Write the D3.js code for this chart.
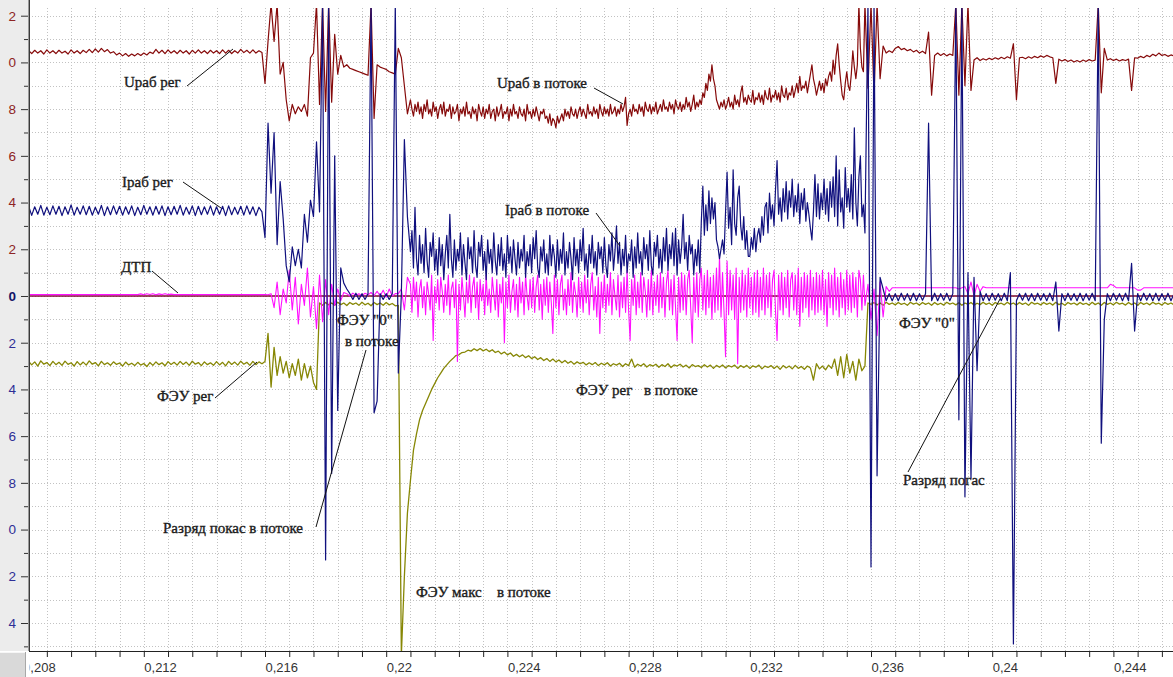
<!DOCTYPE html>
<html><head><meta charset="utf-8">
<script src="https://cdn.jsdelivr.net/npm/d3@7"></script>
<style>html,body{margin:0;padding:0;background:#fff;} svg{display:block;}</style>
</head><body>
<svg id="c" width="1173" height="677"></svg>
<script>
// ---- sampling clock of the recorder ----
const sampleStep = 0.0001;
const fineStep = 0.00005;
const segmentStarts = [0.2082, 0.2160, 0.2208, 0.2358];

// ---- Uраб (maroon) ----
const uWork = [
 [10.5,10.38,10.52,10.4,10.5,10.36,10.54,10.4,10.5,10.38,
  10.52,10.4,10.48,10.36,10.54,10.4,10.5,10.38,10.52,10.42,
  10.56,10.42,10.58,10.44,10.6,10.46,10.55,10.4,10.46,10.32,
  10.4,10.28,10.38,10.26,10.36,10.28,10.38,10.3,10.4,10.32,
  10.44,10.38,10.56,10.4,10.52,10.38,10.54,10.4,10.5,10.38,
  10.52,10.4,10.5,10.36,10.52,10.4,10.54,10.4,10.5,10.38,
  10.52,10.4,10.5,10.38,10.54,10.4,10.52,10.38,10.5,10.4,
  10.56,10.42,10.52,10.4,10.54,10.4,10.5,10.42],
 [9.1,10.9,12.5,10.9,12.5,9.5,10.0,8.4,7.5,8.2,
  7.8,8.1,7.9,8.2,7.7,10.2,10.4,12.5,8.2,12.5,
  7.9,12.5,8.3,11.2,9.5,10.3,9.8,9.9,9.75,9.7,
  9.65,9.6,9.55,9.5,9.45,12.5,7.6,9.9,9.8,9.75,
  9.7,9.6,9.55,9.5,10.6,10.2,9.0,7.8],
 // fine-sampled segment (step 0.00005)
 [8.4,8.0,7.7,8.2,7.9,8.3,7.8,8.1,7.6,8.2,
  7.9,8.4,7.8,8.0,7.7,8.3,7.9,8.1,7.6,8.0,
  8.2,7.8,8.3,7.7,8.0,7.9,8.2,7.6,8.1,7.8,
  7.9,8.2,7.5,8.0,7.8,8.1,7.7,8.3,7.8,7.9,
  7.6,8.1,7.8,8.0,7.5,8.2,7.9,7.7,8.1,7.6,
  8.0,7.8,8.2,7.6,7.9,8.0,7.5,8.1,7.7,7.9,
  8.2,7.6,7.9,7.8,8.1,7.5,8.0,7.7,8.2,7.8,
  7.9,7.6,8.1,7.8,7.7,8.0,7.5,8.2,7.8,7.9,
  7.6,8.0,7.7,8.1,7.8,7.5,7.9,7.8,8.0,7.6,
  7.7,7.4,7.8,7.3,7.6,7.5,7.2,7.7,7.4,7.6,
  7.8,7.5,8.0,7.7,7.9,7.6,8.1,7.8,7.7,8.0,
  7.6,7.9,8.1,7.7,8.0,7.8,7.6,8.2,7.8,7.9,
  7.7,8.1,7.8,8.0,7.6,8.2,7.9,7.7,8.1,7.8,
  8.0,7.7,8.2,7.8,7.9,8.1,7.7,8.0,7.8,8.2,
  7.9,8.1,8.5,7.3,7.8,8.0,7.7,8.2,7.9,8.0,
  7.8,8.2,7.9,8.1,7.7,8.3,8.0,7.9,8.2,7.8,
  8.1,7.9,8.3,7.8,8.0,8.2,7.9,8.4,8.0,8.1,
  7.9,8.3,8.0,8.2,7.8,8.4,8.1,8.0,8.3,7.9,
  8.2,8.0,8.5,8.1,8.3,7.9,8.2,8.6,8.0,8.3,
  8.1,8.4,8.2,8.7,8.5,9.1,8.8,9.5,9.2,9.9,
  9.3,9.0,8.4,8.2,8.0,8.3,8.1,8.4,8.0,8.2,
  8.5,8.1,8.3,8.0,8.6,8.2,8.4,8.1,8.7,9.0,
  8.3,8.5,8.2,8.6,8.4,8.3,8.8,8.2,8.5,8.4,
  8.7,8.3,8.6,8.2,8.8,8.5,8.4,8.9,8.3,8.6,
  8.5,8.8,8.4,8.7,8.3,9.0,8.6,8.5,8.9,8.4,
  8.7,8.6,9.0,8.5,8.8,9.1,8.7,9.4,8.8,9.0,
  8.9,9.2,8.7,9.1,9.5,9.9,9.3,9.0,8.6,8.9,
  9.2,8.8,9.1,8.7,9.3,9.0,9.4,9.6,9.2,10.1,
  9.5,10.3,10.8,9.9,9.2,8.6,8.4,9.1,9.6,9.0,
  8.8,9.5,10.5,9.8,9.3,9.9,12.5,10.6,9.8,9.6],
 [12.5,8.9,12.5,8.6,12.5,9.3,10.7,10.4,10.5,10.42,
  10.6,10.68,10.55,10.6,10.5,10.56,10.45,10.52,10.4,10.48,
  10.38,11.3,8.6,10.3,10.4,10.3,10.38,10.28,10.36,10.3,
  12.5,8.6,12.5,9.0,12.5,8.8,10.1,10.2,10.08,10.16,
  10.1,10.18,10.12,10.2,10.14,10.22,10.16,10.24,10.18,10.8,
  8.4,10.2,10.22,10.16,10.24,10.18,10.26,10.2,10.28,10.22,
  10.3,10.24,10.2,9.1,10.14,10.06,10.12,10.04,10.1,10.02,
  10.08,10.02,10.1,10.04,10.12,10.06,10.1,12.5,8.7,10.6,
  10.1,10.16,10.08,10.14,10.06,10.12,10.08,10.14,8.8,10.2,
  10.18,10.26,10.2,10.3,10.24,10.35,10.28,10.4,10.3,10.34,
  10.26,10.32,10.28]
];

// ---- Iраб (navy) ----
const iWork = [
 [3.85,3.45,3.82,3.5,3.88,3.46,3.8,3.48,3.86,3.5,
  3.84,3.44,3.82,3.5,3.9,3.46,3.8,3.5,3.86,3.48,
  3.84,3.46,3.8,3.5,3.88,3.44,3.82,3.48,3.86,3.5,
  3.84,3.46,3.82,3.5,3.86,3.44,3.8,3.48,3.88,3.5,
  3.82,3.46,3.84,3.5,3.86,3.44,3.82,3.48,3.84,3.5,
  3.88,3.46,3.8,3.5,3.86,3.44,3.84,3.48,3.82,3.5,
  3.86,3.46,3.82,3.5,3.84,3.44,3.86,3.48,3.8,3.5,
  3.84,3.46,3.86,3.5,3.82,3.44,3.8,3.6],
 [2.5,7.4,4.4,7.0,2.2,4.9,3.3,1.3,0.6,2.1,
  1.3,2.0,1.2,3.5,2.3,4.1,3.4,6.6,3.6,12.5,
  -11.3,12.5,-7.6,6.0,-4.9,1.2,0.55,0.3,0.1,-0.15,
  0.12,-0.15,0.1,-0.15,0.1,12.5,-5.0,-4.5,0.1,-0.15,
  0.1,-0.15,0.1,12.5,-3.3,0.1,6.7,3.4],
 // fine-sampled segment (step 0.00005)
 [1.9,2.8,1.2,3.8,1.6,0.9,2.6,1.4,2.2,1.0,
  2.9,1.5,0.8,2.3,1.7,2.7,1.1,2.0,0.9,2.5,
  1.3,2.2,0.7,1.8,2.6,1.2,3.5,1.6,0.8,2.4,
  1.1,2.0,1.5,2.7,0.9,2.2,1.4,0.7,2.5,1.6,
  2.1,1.0,2.8,1.3,0.8,2.3,1.7,2.6,1.1,1.9,
  0.7,2.4,1.4,2.0,1.0,2.7,1.5,0.9,2.2,1.3,
  2.5,1.1,1.8,0.8,2.6,1.4,2.1,1.0,2.4,1.6,
  0.9,2.3,1.2,2.0,1.5,2.6,0.8,1.9,1.3,2.2,
  1.0,2.5,1.6,2.8,1.2,0.8,2.1,1.5,2.4,1.0,
  1.8,0.9,2.6,1.3,2.2,1.7,0.8,2.4,1.1,2.0,
  1.4,2.7,0.9,1.9,1.2,2.3,1.6,0.7,2.5,1.3,
  2.0,1.0,2.4,1.5,2.9,1.1,1.8,0.8,2.2,1.4,
  2.6,1.2,1.9,0.9,2.3,1.6,2.1,1.0,2.5,1.3,
  0.8,2.2,1.5,2.7,1.1,1.9,3.0,1.4,2.3,0.9,
  2.0,1.3,2.6,1.0,1.8,1.5,2.4,0.8,2.1,1.2,
  2.7,1.4,1.9,0.9,2.5,1.6,2.2,1.1,2.8,1.3,
  0.9,2.3,1.7,2.6,1.2,2.0,1.0,2.5,1.5,2.9,
  1.1,2.2,1.6,2.7,1.3,2.9,0.9,2.4,1.4,2.1,
  3.5,1.6,2.3,1.1,2.6,1.8,2.2,0.9,2.0,1.3,
  2.4,1.0,3.2,4.7,2.6,3.9,2.8,4.5,3.1,4.2,
  3.3,4.0,2.4,2.1,1.6,2.0,2.4,1.8,3.6,5.3,
  2.9,3.8,2.2,5.4,3.1,2.6,4.2,4.7,3.0,2.4,
  3.4,2.0,2.8,1.7,1.7,2.5,2.0,2.9,1.9,2.6,
  2.9,2.3,3.4,2.6,3.8,4.0,2.7,4.4,3.3,3.9,
  3.0,4.6,5.8,3.5,4.2,3.2,4.6,3.6,4.9,3.3,
  4.5,3.8,5.0,3.4,4.3,3.6,4.8,3.1,4.4,3.7,
  4.6,3.2,4.0,3.5,2.9,2.4,3.6,5.2,3.4,4.8,
  3.3,4.4,3.7,5.0,3.5,4.6,3.2,4.9,3.8,5.1,
  3.4,6.0,3.0,5.4,3.6,4.2,2.9,5.5,3.8,4.6,
  3.6,5.2,3.3,7.2,4.0,3.0,5.1,6.0,3.4,3.9],
 [2.7,12.5,-11.6,12.5,-7.7,0.8,0.3,-0.2,0.1,-0.2,
  0.1,-0.2,0.12,-0.18,0.1,-0.2,0.12,-0.2,0.1,-0.18,
  0.1,7.4,-0.2,0.12,-0.2,0.1,-0.18,0.12,-0.2,0.1,
  12.5,-5.3,12.5,-8.6,1.0,-7.8,0.8,-3.2,0.2,-0.2,
  0.1,-0.2,0.12,-0.18,0.1,-0.2,0.12,-0.2,1.0,-14.9,
  -0.2,0.1,-0.18,0.12,-0.2,0.1,-0.2,0.12,-0.18,0.1,
  -0.2,0.12,-0.2,0.6,-1.5,0.1,-0.2,0.12,-0.18,0.1,
  -0.2,0.12,-0.2,0.1,-0.18,0.12,-0.2,12.5,-6.3,-1.0,
  0.1,-0.2,0.12,-0.18,0.1,-0.2,0.12,-0.2,1.4,-1.5,
  0.1,-0.2,0.12,-0.18,0.1,-0.2,0.12,-0.2,0.1,-0.18,
  0.12,-0.2,0.1]
];

// ---- ДТП (magenta) ----
const dtp = [
 [0.06,0.06,0.06,0.06,0.06,0.06,0.06,0.06,0.06,0.06,
  0.06,0.06,0.06,0.06,0.06,0.06,0.06,0.06,0.06,0.06,
  0.06,0.06,0.06,0.06,0.06,0.06,0.06,0.06,0.06,0.06,
  0.06,0.06,0.06,0.06,0.06,0.06,0.06,0.09,0.05,0.1,
  0.06,0.1,0.05,0.09,0.06,0.1,0.06,0.08,0.06,0.06,
  0.06,0.06,0.06,0.06,0.06,0.06,0.06,0.06,0.06,0.06,
  0.06,0.06,0.06,0.06,0.06,0.06,0.06,0.06,0.06,0.06,
  0.06,0.06,0.06,0.06,0.06,0.06,0.06,0.06],
 [0.06,0.05,0.1,-0.5,0.6,-0.8,0.3,-0.3,1.1,-0.6,
  0.8,-1.2,0.5,-0.4,1.2,-0.9,0.4,-1.4,0.9,-1.1,
  0.7,-0.8,0.5,-0.4,0.3,-0.2,0.15,0.1,0.0,0.12,
  0.02,0.1,0.0,0.12,0.05,0.15,0.02,0.2,0.0,0.25,
  -0.05,0.3,0.0,0.1,0.1,0.3,-0.6,0.8],
 // fine-sampled segment (step 0.00005)
 [0.5,-0.7,0.8,-0.2,0.6,-0.9,0.3,0.7,-0.5,0.4,
  -0.8,0.6,0.1,-0.6,0.9,-1.9,0.4,-0.3,0.7,-0.6,
  0.8,0.2,-0.7,0.5,-0.4,0.9,-0.8,0.3,0.6,-0.5,
  0.7,-2.8,0.5,-0.6,0.8,0.0,-0.9,0.6,-0.3,0.9,
  -0.7,0.4,0.8,-0.5,0.6,-1.0,0.7,-0.2,0.5,-0.8,
  0.9,-0.4,0.3,-0.7,0.8,0.1,-0.6,0.7,-0.9,0.5,
  -0.3,0.8,-2.0,0.6,-0.5,0.9,-0.7,0.2,0.7,-0.6,
  0.5,-0.9,0.8,-0.3,0.6,-0.8,0.9,0.0,-0.6,0.7,
  -0.5,0.8,-0.7,0.4,0.9,-0.6,0.5,-1.0,0.7,-0.4,
  0.8,-0.7,0.6,-0.3,-1.6,0.9,-0.5,0.7,-0.8,0.5,
  0.9,-0.6,0.3,-0.8,0.7,-0.4,1.0,-0.7,0.6,0.1,
  -0.9,0.8,-0.5,0.6,-0.7,0.9,-0.3,0.7,-0.8,0.5,
  1.0,-0.6,0.4,-0.9,0.8,-1.6,0.6,-0.5,0.9,-0.7,
  0.5,-0.4,1.0,-0.8,0.7,0.0,-0.6,0.9,-0.9,0.6,
  -0.5,0.8,-0.7,1.1,-0.6,-1.9,0.7,-0.4,0.9,-0.8,
  0.6,-0.5,1.0,-0.7,0.8,0.2,-0.9,0.7,-0.6,1.1,
  -0.8,0.6,-0.4,0.9,-0.7,1.0,-0.5,0.8,-0.9,0.6,
  1.1,-0.6,0.7,-0.8,0.9,-0.5,-1.9,0.8,-0.7,1.0,
  -0.6,0.9,-0.8,0.7,1.1,-0.5,-2.0,0.8,-0.7,1.0,
  -0.9,0.7,1.2,-0.6,0.9,-0.8,1.1,-0.5,0.8,-1.0,
  0.9,-0.7,1.2,-0.6,1.7,-0.9,1.0,-0.7,-2.6,1.5,
  -0.8,1.1,-0.6,0.9,-1.0,1.2,-2.9,0.8,-0.7,1.1,
  -0.6,0.9,-0.9,1.2,-0.5,0.8,-0.8,1.0,-0.7,1.1,
  -0.9,0.8,-0.6,1.2,-0.8,0.9,-0.5,1.0,-0.9,0.7,
  1.1,-0.7,-1.9,0.9,-0.6,1.0,-0.8,0.8,-0.5,1.1,
  -0.9,0.7,1.0,-0.6,0.9,-0.8,1.2,-1.3,0.8,-0.7,
  1.0,-0.5,0.9,-0.9,1.1,-0.6,0.8,-0.8,1.0,-0.7,
  0.9,-0.6,1.1,-0.8,0.7,-1.3,1.0,-0.5,0.9,-0.8,
  1.2,-0.6,0.8,-0.9,1.0,-0.5,0.7,-0.8,1.1,-0.6,
  0.9,-0.7,1.0,-0.5,0.8,-0.9,1.1,0.7,-0.6,0.9],
 [-0.4,0.5,-1.0,0.3,-1.7,0.6,-0.9,0.4,0.2,0.35,
  0.35,0.35,0.35,0.35,0.35,0.35,0.35,0.35,0.35,0.35,
  0.35,0.35,0.35,0.35,0.35,0.35,0.35,0.35,0.35,0.35,
  0.35,0.3,0.35,0.4,0.1,0.6,0.0,0.5,0.2,0.4,
  0.35,0.35,0.35,0.35,0.35,0.35,0.35,0.35,0.35,0.35,
  0.35,0.35,0.35,0.35,0.35,0.35,0.35,0.35,0.35,0.35,
  0.35,0.35,0.35,0.35,0.35,0.35,0.35,0.35,0.35,0.35,
  0.35,0.35,0.35,0.35,0.35,0.35,0.35,0.35,0.35,0.35,
  0.35,0.5,0.45,0.35,0.35,0.35,0.35,0.35,0.35,0.35,
  0.25,0.25,0.35,0.35,0.35,0.35,0.35,0.35,0.35,0.35,
  0.35,0.35,0.35]
];

// ---- ФЭУ (olive) ----
const feu = [
 [-2.8,-2.95,-2.82,-3.0,-2.78,-2.92,-2.85,-2.98,-2.8,-2.94,
  -2.84,-2.97,-2.79,-2.93,-2.86,-3.0,-2.81,-2.95,-2.83,-2.96,
  -2.78,-2.92,-2.85,-2.99,-2.8,-2.94,-2.86,-2.97,-2.82,-2.93,
  -2.87,-3.0,-2.83,-2.95,-2.88,-2.98,-2.84,-2.96,-2.89,-3.02,
  -2.85,-2.97,-2.82,-2.94,-2.86,-2.99,-2.81,-2.93,-2.84,-2.96,
  -2.8,-2.93,-2.83,-2.97,-2.79,-2.92,-2.85,-2.98,-2.82,-2.94,
  -2.86,-2.97,-2.81,-2.95,-2.84,-2.99,-2.8,-2.93,-2.83,-2.96,
  -2.79,-2.92,-2.84,-2.97,-2.8,-2.94,-2.82,-2.9],
 [-2.8,-1.6,-3.9,-2.2,-3.4,-2.6,-3.3,-2.8,-3.5,-2.9,
  -3.4,-2.7,-3.6,-2.9,-3.5,-3.0,-3.7,-4.0,-0.3,-0.4,
  -0.28,-0.38,-0.3,-0.4,-0.27,-0.37,-0.3,-0.41,-0.28,-0.36,
  -0.3,-0.4,-0.27,-0.38,-0.31,-0.42,-0.28,-0.37,-0.3,-0.4,
  -0.28,-0.38,-0.32,-0.42,-0.4,-15.4,-12.0,-9.3],
 [-7.9,-6.6,-5.9,-5.3,-4.9,-4.6,-4.3,-4.0,-3.75,-3.5,
  -3.3,-3.1,-2.95,-2.8,-2.68,-2.55,-2.52,-2.42,-2.4,-2.32,
  -2.36,-2.26,-2.34,-2.25,-2.35,-2.28,-2.38,-2.3,-2.42,-2.36,
  -2.48,-2.4,-2.52,-2.44,-2.58,-2.5,-2.6,-2.52,-2.64,-2.56,
  -2.68,-2.6,-2.72,-2.64,-2.76,-2.68,-2.8,-2.7,-2.82,-2.74,
  -2.86,-2.76,-2.88,-2.8,-2.92,-2.82,-2.9,-2.84,-2.95,-2.86,
  -2.94,-2.85,-2.98,-2.88,-2.95,-2.86,-3.0,-2.9,-2.96,-2.88,
  -3.02,-2.9,-2.98,-2.7,-3.05,-2.92,-3.0,-2.9,-3.04,-2.94,
  -3.0,-2.92,-3.05,-2.94,-3.02,-2.9,-3.06,-2.95,-3.0,-2.92,
  -3.04,-2.96,-3.08,-2.94,-3.02,-2.98,-3.06,-2.94,-3.04,-2.96,
  -3.1,-2.97,-3.05,-2.95,-3.08,-2.98,-3.04,-2.96,-3.1,-2.98,
  -3.06,-2.97,-3.1,-2.99,-3.05,-2.96,-3.12,-3.0,-3.06,-2.98,
  -3.1,-3.0,-3.14,-2.98,-3.08,-3.0,-3.12,-2.97,-3.1,-3.02,
  -3.14,-3.0,-3.08,-3.6,-2.9,-3.12,-3.0,-3.16,-2.96,-3.1,
  -2.7,-3.4,-2.6,-3.5,-2.5,-3.3,-2.8,-3.6,-2.7,-3.2],
 [-3.0,-0.3,-0.36,-0.28,-0.38,-0.3,-0.4,-0.27,-0.36,-0.3,
  -0.38,-0.28,-0.36,-0.31,-0.4,-0.27,-0.35,-0.3,-0.39,-0.28,
  -0.36,-0.3,-0.4,-0.28,-0.37,-0.31,-0.39,-0.27,-0.35,-0.3,
  -0.38,-0.29,-0.4,-0.3,-0.36,-0.28,-0.39,-0.31,-0.37,-0.27,
  -0.36,-0.3,-0.4,-0.28,-0.35,-0.31,-0.38,-0.27,-0.36,-0.3,
  -0.39,-0.28,-0.36,-0.3,-0.4,-0.27,-0.35,-0.31,-0.38,-0.28,
  -0.36,-0.3,-0.39,-0.27,-0.37,-0.31,-0.4,-0.28,-0.35,-0.3,
  -0.38,-0.28,-0.36,-0.31,-0.39,-0.27,-0.37,-0.3,-0.4,-0.28,
  -0.36,-0.3,-0.38,-0.27,-0.35,-0.31,-0.39,-0.28,-0.37,-0.3,
  -0.4,-0.28,-0.36,-0.3,-0.38,-0.27,-0.35,-0.31,-0.39,-0.28,
  -0.36,-0.3,-0.38]
];

// ---- axes ----
const yTickValues = [-14,-12,-10,-8,-6,-4,-2,0,2,4,6,8,10,12];
const yMinorValues = [-15,-13,-11,-9,-7,-5,-3,-1,1,3,5,7,9,11];
const xLabelTicks = [0.208,0.212,0.216,0.22,0.224,0.228,0.232,0.236,0.24,0.244];
const xMinorStep = 0.0008;

// ---- annotations ----
const notes = [
  {t:"Uраб рег", x:124, y:87},
  {t:"Iраб рег", x:122, y:187},
  {t:"ДТП", x:121, y:272},
  {t:"ФЭУ рег", x:157, y:401},
  {t:"Разряд покас в потоке", x:163, y:533},
  {t:"ФЭУ \"0\"", x:337, y:325},
  {t:"в потоке", x:345, y:346},
  {t:"Uраб в потоке", x:497, y:88},
  {t:"Iраб в потоке", x:505, y:215},
  {t:"ФЭУ рег", x:576, y:395},
  {t:"в потоке", x:644, y:395},
  {t:"ФЭУ макс", x:416, y:597},
  {t:"в потоке", x:497, y:597},
  {t:"ФЭУ \"0\"", x:899, y:328},
  {t:"Разряд погас", x:903, y:485}
];
const leaders = [
  [187,86,233,49],[183,182,221,208],[152,271,178,293],[215,398,257,362],
  [316,527,366,350],[594,88,623,104],[596,213,620,246],[908,472,1000,299]
];

const series = [
  {name:"ФЭУ", data:feu, steps:[sampleStep,sampleStep,sampleStep,sampleStep], color:"#878705", w:1.3},
  {name:"ДТП", data:dtp, steps:[sampleStep,sampleStep,fineStep,sampleStep], color:"#ff10ff", w:1.1},
  {name:"Uраб", data:uWork, steps:[sampleStep,sampleStep,fineStep,sampleStep], color:"#860a0a", w:1.2},
  {name:"Iраб", data:iWork, steps:[sampleStep,sampleStep,fineStep,sampleStep], color:"#10107e", w:1.2}
];

const W=1173, H=677, L=29, R=1173, T=8, B=651;
const x = d3.scaleLinear().domain([0.208, 0.246]).range([22.6, 1174]);
const y = d3.scaleLinear().domain([-14, 12]).range([623, 15.7]);

const svg = d3.select("#c");
const defs = svg.append("defs");
defs.append("clipPath").attr("id","plot").append("rect").attr("x",L).attr("y",T).attr("width",R-L).attr("height",B-T);
defs.append("clipPath").attr("id","xlab").append("rect").attr("x",29.6).attr("y",B-2).attr("width",R-29).attr("height",H-B+2);

// left panel
svg.append("rect").attr("x",0).attr("y",0).attr("width",28).attr("height",B).attr("fill","#ececec");
// bottom-left box
svg.append("rect").attr("x",0).attr("y",B+1).attr("width",26).attr("height",H-B-1).attr("fill","#d9d9d9");
svg.append("line").attr("x1",0).attr("x2",26).attr("y1",B+1.5).attr("y2",B+1.5).attr("stroke","#f6f6f6");
svg.append("line").attr("x1",25.5).attr("x2",25.5).attr("y1",B+1).attr("y2",H).attr("stroke","#a8a8a8");

// grid
const minorX = d3.range(0, 48).map(k => +(0.208 + k*xMinorStep).toFixed(4));
const gridG = svg.append("g").attr("clip-path","url(#plot)");
gridG.selectAll("line.h").data(d3.range(-15, 13)).join("line")
  .attr("x1",L).attr("x2",R).attr("y1",d=>Math.round(y(d))+0.5).attr("y2",d=>Math.round(y(d))+0.5)
  .attr("stroke","#c2c2c2").attr("stroke-dasharray","1,2");
gridG.selectAll("line.v").data(minorX).join("line")
  .attr("y1",T).attr("y2",B).attr("x1",d=>Math.round(x(d))+0.5).attr("x2",d=>Math.round(x(d))+0.5)
  .attr("stroke","#c2c2c2").attr("stroke-dasharray","1,2");

// zero reference line
svg.append("line").attr("clip-path","url(#plot)").attr("x1",L).attr("x2",R)
  .attr("y1",y(0)).attr("y2",y(0)).attr("stroke","#7a0a2a").attr("stroke-width",1.6);

// traces
const line = d3.line().x(d=>x(d[0])).y(d=>y(d[1]));
const traceG = svg.append("g").attr("clip-path","url(#plot)");
series.forEach(s => {
  const pts = s.data.flatMap((vals, si) => vals.map((v,k) => [segmentStarts[si] + k*s.steps[si], v]));
  traceG.append("path").datum(pts).attr("d", line)
    .attr("fill","none").attr("stroke", s.color).attr("stroke-width",s.w).attr("stroke-linejoin","round");
});

// y axis
const yMinor = svg.append("g").attr("transform",`translate(${L},0)`)
  .call(d3.axisLeft(y).tickValues(yMinorValues).tickSize(5).tickFormat(""));
const yMajor = svg.append("g").attr("transform",`translate(${L},0)`)
  .call(d3.axisLeft(y).tickValues(yTickValues).tickSize(8).tickPadding(5)
    .tickFormat(d => String(Math.abs(d) % 10)));
[yMinor, yMajor].forEach(g => {
  g.select(".domain").remove();
  g.selectAll(".tick line").attr("stroke","#333");
});
yMajor.selectAll(".tick text")
  .attr("font-family","Liberation Sans, Arial, sans-serif").attr("font-size",13.5)
  .attr("fill", d => d > 0 ? "#8e2424" : (d === 0 ? "#141466" : "#2e2e96"))
  .attr("font-weight", d => d === 0 ? "bold" : "normal");
svg.append("line").attr("x1",28.5).attr("x2",28.5).attr("y1",0).attr("y2",B).attr("stroke","#9a9a9a");
svg.append("line").attr("x1",29.5).attr("x2",29.5).attr("y1",0).attr("y2",B+0.5).attr("stroke","#3a3a3a");

// x axis (clipped on the left like the original window)
const xClip = svg.append("g").attr("clip-path","url(#xlab)");
const xAx = xClip.append("g").attr("transform",`translate(0,${B})`)
  .call(d3.axisBottom(x).tickValues(minorX).tickSize(6).tickPadding(6)
    .tickFormat(d => xLabelTicks.some(v => Math.abs(v-d) < 1e-7) ? String(+d.toFixed(3)).replace(".", ",") : ""));
xAx.select(".domain").remove();
xAx.selectAll(".tick line").attr("stroke","#222");
xAx.selectAll(".tick text").attr("text-anchor","start").attr("x",0)
  .attr("font-family","Liberation Sans, Arial, sans-serif").attr("font-size",13).attr("fill","#333");
svg.append("line").attr("x1",L).attr("x2",R).attr("y1",B+0.5).attr("y2",B+0.5).attr("stroke","#222");

// annotations
const annG = svg.append("g");
annG.selectAll("line").data(leaders).join("line")
  .attr("x1",d=>d[0]).attr("y1",d=>d[1]).attr("x2",d=>d[2]).attr("y2",d=>d[3])
  .attr("stroke","#111").attr("stroke-width",1);
annG.selectAll("text").data(notes).join("text")
  .attr("x",d=>d.x).attr("y",d=>d.y).text(d=>d.t)
  .attr("font-family","Liberation Serif, Times New Roman, serif").attr("font-size",15)
  .attr("fill","#1a1a1a").attr("stroke","#1a1a1a").attr("stroke-width",0.35);
</script>
</body></html>
